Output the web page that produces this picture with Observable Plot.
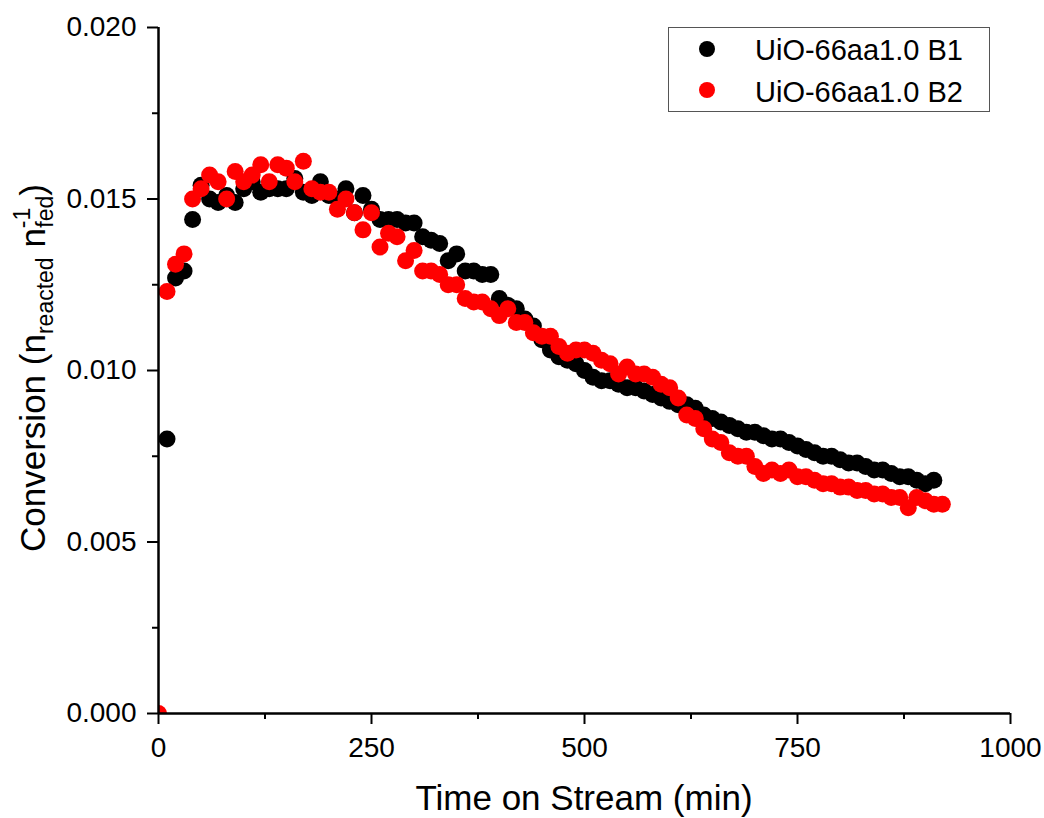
<!DOCTYPE html>
<html><head><meta charset="utf-8">
<script src="https://cdn.jsdelivr.net/npm/d3@7"></script>
<script src="https://cdn.jsdelivr.net/npm/@observablehq/plot@0.6"></script>
<style>body{margin:0;background:#fff;} #chart svg{font-family:Arial,"Liberation Sans",sans-serif;display:block;}</style>
</head><body><div id="chart"></div>
<script>
const seriesNames = ["UiO-66aa1.0 B1", "UiO-66aa1.0 B2"];
const seriesColors = ["#000000", "#ff0000"];

const timeB1 = [10,20,30,40,50,60,70,80,90,100,110,120,130,140,150,160,170,180,190,200,
  210,220,230,240,250,260,270,280,290,300,310,320,330,340,350,360,370,380,390,400,
  410,420,430,440,450,460,470,480,490,500,510,520,530,540,550,560,570,580,590,600,
  610,620,630,640,650,660,670,680,690,700,710,720,730,740,750,760,770,780,790,800,
  810,820,830,840,850,860,870,880,890,900,910];
const convB1 = [0.0080,0.0127,0.0129,0.0144,0.0154,0.0150,0.0149,0.0151,0.0149,0.0153,
  0.0155,0.0152,0.0153,0.0153,0.0153,0.0156,0.0152,0.0151,0.0155,0.0151,
  0.0150,0.0153,0.0146,0.0151,0.0147,0.0144,0.0144,0.0144,0.0143,0.0143,
  0.0139,0.0138,0.0137,0.0132,0.0134,0.0129,0.0129,0.0128,0.0128,0.0121,
  0.0119,0.0118,0.0115,0.0113,0.0109,0.0106,0.0104,0.0103,0.0102,0.0100,
  0.0098,0.0097,0.0097,0.0096,0.0095,0.0095,0.0094,0.0093,0.0092,0.0091,
  0.0090,0.0090,0.0089,0.0087,0.0086,0.0085,0.0084,0.0083,0.0082,0.0082,
  0.0081,0.0080,0.0080,0.0079,0.0078,0.0077,0.0076,0.0075,0.0075,0.0074,
  0.0073,0.0073,0.0072,0.0071,0.0071,0.0070,0.0069,0.0069,0.0068,0.0067,
  0.0068];

const timeB2 = [0,10,20,30,40,50,60,70,80,90,100,110,120,130,140,150,160,170,180,190,200,
  210,220,230,240,250,260,270,280,290,300,310,320,330,340,350,360,370,380,390,400,
  410,420,430,440,450,460,470,480,490,500,510,520,530,540,550,560,570,580,590,600,
  610,620,630,640,650,660,670,680,690,700,710,720,730,740,750,760,770,780,790,800,
  810,820,830,840,850,860,870,880,890,900,910,920];
const convB2 = [0.0000,0.0123,0.0131,0.0134,0.0150,0.0153,0.0157,0.0155,0.0150,0.0158,
  0.0155,0.0157,0.0160,0.0155,0.0160,0.0159,0.0155,0.0161,0.0153,0.0152,
  0.0152,0.0147,0.0150,0.0146,0.0141,0.0146,0.0136,0.0140,0.0139,0.0132,
  0.0135,0.0129,0.0129,0.0128,0.0125,0.0125,0.0121,0.0120,0.0120,0.0118,
  0.0116,0.0118,0.0114,0.0114,0.0111,0.0110,0.0110,0.0107,0.0105,0.0106,
  0.0106,0.0105,0.0103,0.0102,0.0099,0.0101,0.0099,0.0099,0.0098,0.0096,
  0.0095,0.0092,0.0087,0.0086,0.0083,0.0080,0.0079,0.0076,0.0075,0.0075,
  0.0072,0.0070,0.0071,0.0070,0.0071,0.0069,0.0069,0.0068,0.0067,0.0067,
  0.0066,0.0066,0.0065,0.0065,0.0064,0.0064,0.0063,0.0063,0.0060,0.0063,
  0.0062,0.0061,0.0061];

const xTicks = [0, 250, 500, 750, 1000];
const xMinorTicks = [125, 375, 625, 875];
const yTicks = [0, 0.005, 0.010, 0.015, 0.020];
const yMinorTicks = [0.0025, 0.0075, 0.0125, 0.0175];
const xTitle = "Time on Stream (min)";

const data = [
  ...timeB1.map((t, i) => ({series: seriesNames[0], time: t, conv: convB1[i]})),
  ...timeB2.map((t, i) => ({series: seriesNames[1], time: t, conv: convB2[i]}))
];

const chart = Plot.plot({
  width: 1044, height: 818,
  marginLeft: 158, marginRight: 34, marginTop: 27, marginBottom: 105,
  style: {fontFamily: 'Arial, "Liberation Sans", sans-serif', color: "#000", background: "#fff", overflow: "visible"},
  x: {domain: [0, 1000]},
  y: {domain: [0, 0.02]},
  color: {domain: seriesNames, range: seriesColors},
  marks: [
    Plot.dot(data, {x: "time", y: "conv", fill: "series", r: 8.5, clip: true}),
    Plot.ruleY([0], {strokeWidth: 2.5}),
    Plot.ruleX([0], {strokeWidth: 2.5}),
    Plot.axisX({ticks: xTicks, tickSize: 11, tickPadding: 13, strokeWidth: 2, fontSize: 28, tickFormat: d => String(d), label: null}),
    Plot.axisX({ticks: xMinorTicks, tickSize: 6, strokeWidth: 2, tickFormat: () => "", label: null}),
    Plot.axisY({ticks: yTicks, tickSize: 11, tickPadding: 11, strokeWidth: 2, fontSize: 28, tickFormat: d3.format(".3f"), label: null}),
    Plot.axisY({ticks: yMinorTicks, tickSize: 6, strokeWidth: 2, tickFormat: () => "", label: null})
  ]
});
document.getElementById("chart").append(chart);

const svg = d3.select(chart);
// x title
svg.append("text").attr("x", 584).attr("y", 810).attr("text-anchor", "middle")
  .attr("font-size", 35).attr("fill", "#000").text(xTitle);
// y title with sub/superscripts
const yt = svg.append("text").attr("transform", "translate(45,368) rotate(-90)")
  .attr("text-anchor", "middle").attr("font-size", 35).attr("fill", "#000");
yt.append("tspan").text("Conversion (n");
yt.append("tspan").attr("font-size", 23).attr("dy", 8).text("reacted");
yt.append("tspan").attr("font-size", 35).attr("dy", -8).text(" n");
yt.append("tspan").attr("font-size", 23).attr("dy", -15).text("-1");
yt.append("tspan").attr("font-size", 23).attr("dx", -20).attr("dy", 23).text("fed");
yt.append("tspan").attr("font-size", 35).attr("dy", -8).text(")");
// legend
const lg = svg.append("g");
lg.append("rect").attr("x", 668.5).attr("y", 27.5).attr("width", 321).attr("height", 84)
  .attr("fill", "#fff").attr("stroke", "#555").attr("stroke-width", 1);
seriesNames.forEach((name, i) => {
  lg.append("circle").attr("cx", 707).attr("cy", 49 + i * 41).attr("r", 8).attr("fill", seriesColors[i]);
  lg.append("text").attr("x", 755).attr("y", 60 + i * 42).attr("text-anchor", "start")
    .attr("font-size", 29).attr("fill", "#000").text(name);
});
</script>
</body></html>
